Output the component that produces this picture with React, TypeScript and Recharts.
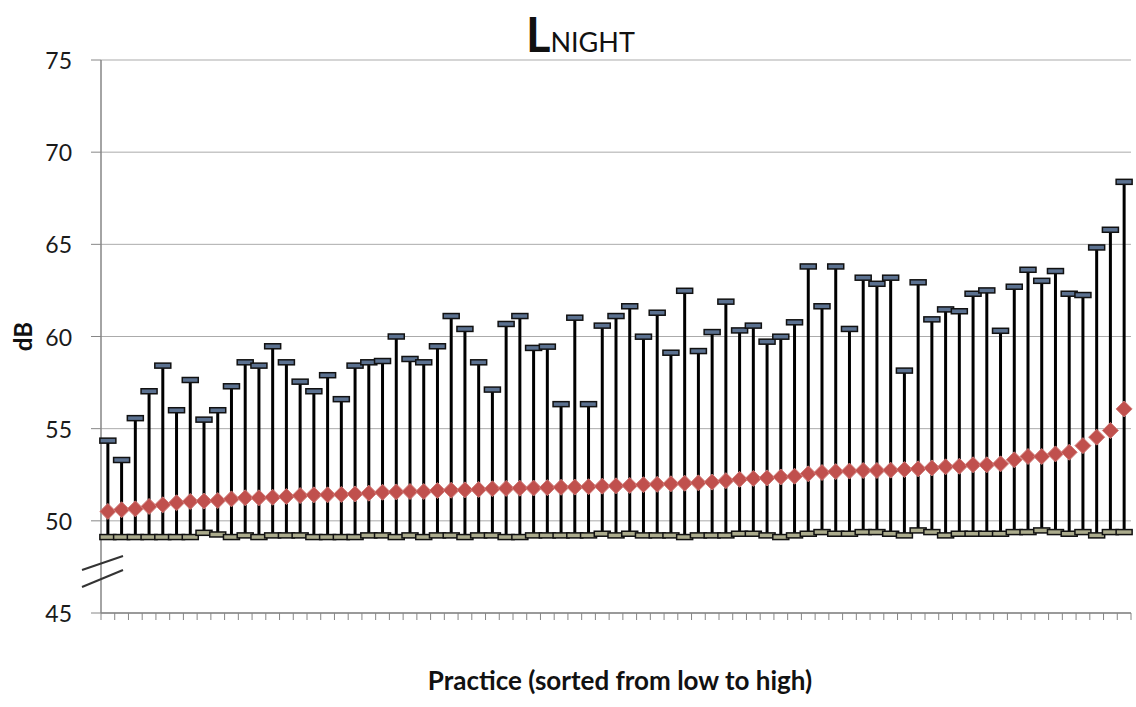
import {
  ComposedChart,
  Scatter,
  ErrorBar,
  XAxis,
  YAxis,
  CartesianGrid,
} from "recharts";

// practices, sorted by mean Lnight (low to high)
const practices = Array.from({ length: 75 }, (_, i) => i + 1);

const highs = [
  54.35, 53.3, 55.57, 57.03, 58.42, 56.0, 57.64, 55.49, 56.0, 57.3, 58.6, 58.42,
  59.47, 58.6, 57.55, 57.03, 57.9, 56.6, 58.42, 58.6, 58.67, 60.0, 58.78, 58.6,
  59.47, 61.11, 60.41, 58.6, 57.12, 60.68, 61.11, 59.38, 59.45, 56.33, 61.02,
  56.33, 60.59, 61.11, 61.64, 59.99, 61.29, 59.12, 62.48, 59.21, 60.24, 61.89,
  60.33, 60.59, 59.72, 59.99, 60.77, 63.8, 61.64, 63.8, 60.41, 63.19, 62.86,
  63.19, 58.15, 62.94, 60.93, 61.47, 61.37, 62.32, 62.5, 60.31, 62.7, 63.62,
  63.02, 63.55, 62.32, 62.25, 64.83, 65.79, 68.39,
];

const means = [
  50.51, 50.6, 50.65, 50.78, 50.87, 50.98, 51.05, 51.07, 51.1, 51.19, 51.25,
  51.25, 51.28, 51.32, 51.37, 51.41, 51.41, 51.43, 51.46, 51.5, 51.55, 51.57,
  51.59, 51.59, 51.64, 51.66, 51.68, 51.7, 51.74, 51.76, 51.77, 51.78, 51.8,
  51.82, 51.83, 51.85, 51.88, 51.9, 51.92, 51.96, 51.98, 52.01, 52.04, 52.06,
  52.1, 52.18, 52.25, 52.3, 52.33, 52.38, 52.42, 52.55, 52.62, 52.67, 52.7,
  52.73, 52.73, 52.75, 52.78, 52.82, 52.87, 52.93, 52.96, 53.04, 53.04, 53.09,
  53.31, 53.49, 53.49, 53.63, 53.72, 54.08, 54.54, 54.9, 56.07,
];

const lows = [
  49.12, 49.12, 49.12, 49.12, 49.12, 49.12, 49.12, 49.35, 49.26, 49.12, 49.21,
  49.12, 49.21, 49.21, 49.21, 49.12, 49.12, 49.12, 49.12, 49.21, 49.21, 49.12,
  49.21, 49.12, 49.21, 49.21, 49.12, 49.21, 49.21, 49.12, 49.12, 49.21, 49.21,
  49.21, 49.21, 49.21, 49.3, 49.21, 49.3, 49.21, 49.21, 49.21, 49.12, 49.21,
  49.21, 49.21, 49.3, 49.3, 49.21, 49.12, 49.21, 49.3, 49.39, 49.3, 49.3, 49.39,
  49.39, 49.3, 49.21, 49.48, 49.39, 49.21, 49.3, 49.3, 49.3, 49.3, 49.39, 49.39,
  49.48, 49.39, 49.3, 49.39, 49.21, 49.39, 49.39,
];

const yTicks = [45, 50, 55, 60, 65, 70, 75];

const data = practices.map((p, i) => ({
  practice: p,
  high: highs[i],
  mean: means[i],
  low: lows[i],
  span: [highs[i] - lows[i], 0],
}));

// tick marks sit between practices, like Excel category axis
const xBoundaries = [0, ...practices].map((p) => p + 0.5);

const FONT = "Lato, 'Open Sans', sans-serif";
const AXIS = "#868686";
const Y_TICK_SIZE = 10;
const Y_TICK_MARGIN = 19;

const YTick = (props: any) => {
  const { x, y, payload } = props;
  const axisX = x + Y_TICK_SIZE + Y_TICK_MARGIN;
  return (
    <g>
      <text
        x={x}
        y={y}
        textAnchor="end"
        dominantBaseline="central"
        fontSize={23}
        fontFamily={FONT}
        fill="#1a1a1a"
      >
        {payload.value}
      </text>
      {payload.value === 45 && (
        <g stroke="#333" strokeWidth={2}>
          <line x1={axisX - 19} y1={y - 26} x2={axisX + 22} y2={y - 43} />
          <line x1={axisX - 19} y1={y - 43} x2={axisX + 22} y2={y - 57} />
        </g>
      )}
    </g>
  );
};

// x ticks carry no labels, only the tick marks
const NoLabel = () => <g />;

const HighCap = (props: any) => (
  <rect
    x={props.cx - 8}
    y={props.cy - 2.5}
    width={16}
    height={5}
    fill="#5B7190"
    stroke="#111"
    strokeWidth={1.5}
  />
);

const LowCap = (props: any) => (
  <rect
    x={props.cx - 8}
    y={props.cy - 2.5}
    width={16}
    height={5}
    fill="#ABAB8C"
    stroke="#111"
    strokeWidth={1.5}
  />
);

const Diamond = (props: any) => {
  const { cx, cy } = props;
  return (
    <path
      d={`M${cx},${cy - 8} L${cx + 8},${cy} L${cx},${cy + 8} L${cx - 8},${cy} Z`}
      fill="#C0504D"
      stroke="#D17A77"
      strokeWidth={1}
    />
  );
};

const Nothing = () => <g />;

const DbLabel = (props: any) => {
  const { x, y, height } = props.viewBox;
  const cx = x + 22;
  const cy = y + height / 2;
  return (
    <text
      x={cx}
      y={cy}
      transform={`rotate(-90, ${cx}, ${cy})`}
      textAnchor="middle"
      dominantBaseline="central"
      fontSize={24}
      fontWeight={700}
      fontFamily={FONT}
      fill="#111"
    >
      dB
    </text>
  );
};

const PracticeLabel = (props: any) => {
  const { x, y, width } = props.viewBox;
  return (
    <text
      x={x + width / 2 + 4}
      y={y + 67}
      textAnchor="middle"
      dominantBaseline="central"
      fontSize={26}
      fontWeight={700}
      fontFamily={FONT}
      fill="#111"
    >
      Practice (sorted from low to high)
    </text>
  );
};

export default function App() {
  return (
    <div
      style={{
        position: "absolute",
        left: 0,
        top: 0,
        width: 1136,
        height: 707,
        background: "#fff",
      }}
    >
      <svg
        width={1136}
        height={70}
        style={{ position: "absolute", left: 0, top: 0, pointerEvents: "none" }}
      >
        <text x={526} y={52} fontFamily={FONT} fill="#111">
          <tspan fontSize={47} fontWeight={700}>
            L
          </tspan>
          <tspan fontSize={27}>NIGHT</tspan>
        </text>
      </svg>
      <ComposedChart
        width={1136}
        height={707}
        data={data}
        margin={{ top: 60, right: 5, bottom: 0, left: 0 }}
      >
        <CartesianGrid vertical={false} stroke="#ABABAB" />
        <XAxis
          type="number"
          dataKey="practice"
          domain={[0.5, 75.5]}
          ticks={xBoundaries}
          tick={NoLabel}
          interval={0}
          tickSize={7}
          height={94}
          axisLine={{ stroke: AXIS, strokeWidth: 1.5 }}
          tickLine={{ stroke: AXIS }}
          label={PracticeLabel}
        />
        <YAxis
          type="number"
          domain={[45, 75]}
          ticks={yTicks}
          width={101}
          tickSize={Y_TICK_SIZE}
          tickMargin={Y_TICK_MARGIN}
          tick={YTick}
          axisLine={{ stroke: AXIS, strokeWidth: 1.5 }}
          tickLine={{ stroke: AXIS }}
          label={DbLabel}
        />
        <Scatter dataKey="high" shape={Nothing} isAnimationActive={false}>
          <ErrorBar
            dataKey="span"
            direction="y"
            width={0}
            stroke="#000"
            strokeWidth={3}
            isAnimationActive={false}
          />
        </Scatter>
        <Scatter dataKey="low" shape={LowCap} isAnimationActive={false} />
        <Scatter dataKey="high" shape={HighCap} isAnimationActive={false} />
        <Scatter dataKey="mean" shape={Diamond} isAnimationActive={false} />
      </ComposedChart>
    </div>
  );
}
